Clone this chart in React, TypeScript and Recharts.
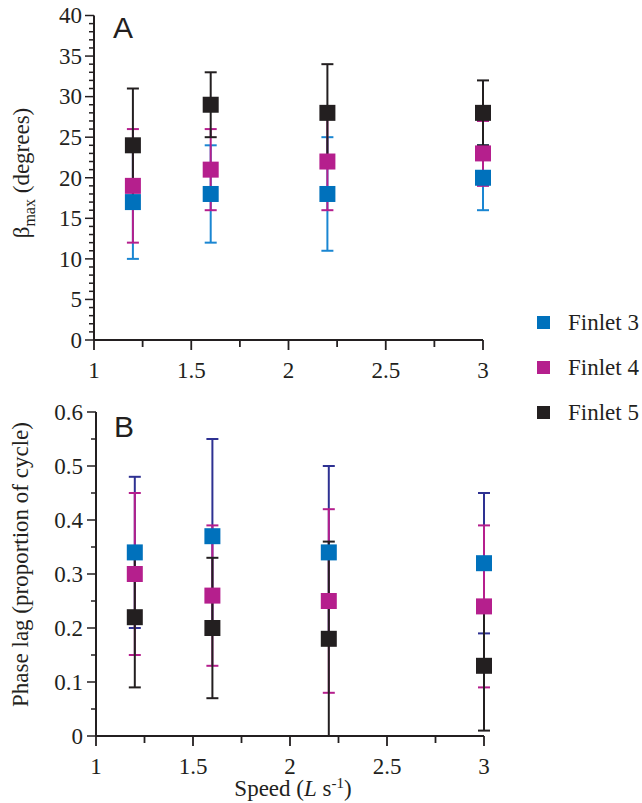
import React from 'react';
import { ScatterChart, Scatter, XAxis, YAxis, ErrorBar, Legend } from 'recharts';

const speeds = [1.2, 1.6, 2.2, 3.0];
const seriesNames = ['Finlet 3', 'Finlet 4', 'Finlet 5'];

const betaF3 = [17, 18, 18, 20];
const betaF3Err = [7, 6, 7, 4];
const betaF4 = [19, 21, 22, 23];
const betaF4Err = [7, 5, 6, 4];
const betaF5 = [24, 29, 28, 28];
const betaF5Err = [7, 4, 6, 4];

const lagF3 = [0.34, 0.37, 0.34, 0.32];
const lagF3Err = [0.14, 0.18, 0.16, 0.13];
const lagF4 = [0.3, 0.26, 0.25, 0.24];
const lagF4Err = [0.15, 0.13, 0.17, 0.15];
const lagF5 = [0.22, 0.2, 0.18, 0.13];
const lagF5Err = [0.13, 0.13, 0.18, 0.12];

const xTicks = [1, 1.25, 1.5, 1.75, 2, 2.25, 2.5, 2.75, 3];
const betaTicks = [0,1,2,3,4,5,6,7,8,9,10,11,12,13,14,15,16,17,18,19,20,21,22,23,24,25,26,27,28,29,30,31,32,33,34,35,36,37,38,39,40];
const lagTicks = [0, 0.05, 0.1, 0.15, 0.2, 0.25, 0.3, 0.35, 0.4, 0.45, 0.5, 0.55, 0.6];

const squareColors = ['#0071bc', '#b51f8d', '#231f20'];
const topErrColors = ['#1a86d2', '#b51f8d', '#231f20'];
const bottomErrColors = ['#2e3192', '#b51f8d', '#231f20'];

const INK = '#231f20';
const SERIF = "'Liberation Serif', 'Times New Roman', Times, 'DejaVu Serif', serif";
const SANS = "'Liberation Sans', Arial, sans-serif";
const FS = 23;

const build = (vals: number[], errs: number[]) =>
  speeds.map((s, i) => ({ x: s, y: vals[i], err: errs[i] }));

const topData = [build(betaF3, betaF3Err), build(betaF4, betaF4Err), build(betaF5, betaF5Err)];
const bottomData = [build(lagF3, lagF3Err), build(lagF4, lagF4Err), build(lagF5, lagF5Err)];

const txt = { fontFamily: SERIF, fontSize: FS, fill: INK } as React.CSSProperties;

const XTick = (props: any) => {
  const { x, y, payload } = props;
  const v = payload.value;
  const major = Math.abs(v * 2 - Math.round(v * 2)) < 1e-6;
  return (
    <g>
      <line x1={x} y1={y} x2={x} y2={y + (major ? 10 : 7)} stroke={INK} strokeWidth={1.8} />
      {major && (
        <text x={x} y={y + 38} textAnchor="middle" style={txt}>
          {String(v)}
        </text>
      )}
    </g>
  );
};

const BetaTick = (props: any) => {
  const { x, y, payload } = props;
  const v = payload.value;
  const major = v % 5 === 0;
  return (
    <g>
      <line x1={x} y1={y} x2={x - (major ? 9 : 5)} y2={y} stroke={INK} strokeWidth={1.5} />
      {major && (
        <text x={x - 12} y={y} dy="0.34em" textAnchor="end" style={txt}>
          {String(v)}
        </text>
      )}
    </g>
  );
};

const LagTick = (props: any) => {
  const { x, y, payload } = props;
  const v = payload.value;
  const major = Math.round(v * 100) % 10 === 0;
  return (
    <g>
      <line x1={x} y1={y} x2={x - (major ? 9 : 5)} y2={y} stroke={INK} strokeWidth={1.5} />
      {major && (
        <text x={x - 13} y={y} dy="0.34em" textAnchor="end" style={txt}>
          {v === 0 ? '0' : v.toFixed(1)}
        </text>
      )}
    </g>
  );
};

const squareShape = (color: string) => (p: any) => (
  <rect x={p.cx - 8} y={p.cy - 8} width={16} height={16} fill={color} />
);
const noShape = () => <g />;

const LegendBox = () => (
  <div style={{ fontFamily: SERIF, fontSize: FS, color: INK }}>
    {seriesNames.map((n, i) => (
      <div key={n} style={{ height: 45, display: 'flex', alignItems: 'center' }}>
        <div style={{ width: 13, height: 13, background: squareColors[i], marginRight: 18 }} />
        <span style={{ whiteSpace: 'nowrap', fontFamily: SERIF }}>{n}</span>
      </div>
    ))}
  </div>
);

const TopYLabel = () => (
  <text x={29} y={173} transform="rotate(-90, 29, 173)" textAnchor="middle" style={txt}>
    β<tspan dy={6} style={{ fontSize: 16 }}>max</tspan>
    <tspan dy={-6}> (degrees)</tspan>
  </text>
);

const BottomYLabel = () => (
  <text x={28} y={184.5} transform="rotate(-90, 28, 184.5)" textAnchor="middle" style={txt}>
    Phase lag (proportion of cycle)
  </text>
);

const BottomXLabel = () => (
  <text x={293} y={416} textAnchor="middle" style={txt}>
    Speed (<tspan style={{ fontStyle: 'italic' }}>L</tspan> s
    <tspan dy={-8} style={{ fontSize: 15 }}>-1</tspan>
    <tspan dy={8}>)</tspan>
  </text>
);

export default function App() {
  return (
    <div style={{ position: 'absolute', left: 0, top: 0, width: 642, height: 803, background: '#fff', fontFamily: SERIF }}>
      <div style={{ position: 'absolute', left: 0, top: 380 }}>
        <ScatterChart width={642} height={423} margin={{ top: 32, right: 158, bottom: 0, left: 0 }} style={{ fontFamily: SERIF }}>
          <XAxis
            type="number"
            dataKey="x"
            domain={[1, 3]}
            ticks={xTicks}
            interval={0}
            tickSize={0}
            tickMargin={0}
            height={67}
            axisLine={{ stroke: INK, strokeWidth: 2 }}
            tickLine={false}
            tick={(p: any) => <XTick {...p} />}
            label={{ content: () => <BottomXLabel /> }}
          />
          <YAxis
            type="number"
            dataKey="y"
            domain={[0, 0.6]}
            ticks={lagTicks}
            interval={0}
            tickSize={0}
            tickMargin={0}
            width={96}
            axisLine={{ stroke: INK, strokeWidth: 2 }}
            tickLine={false}
            tick={(p: any) => <LagTick {...p} />}
            label={{ content: () => <BottomYLabel /> }}
          />
          {bottomData.map((d, i) => (
            <Scatter key={'e' + i} data={d} shape={noShape} isAnimationActive={false} legendType="none">
              <ErrorBar dataKey="err" direction="y" width={6} stroke={bottomErrColors[i]} strokeWidth={2} isAnimationActive={false} />
            </Scatter>
          ))}
          {bottomData.map((d, i) => (
            <Scatter key={'s' + i} name={seriesNames[i]} data={d} fill={squareColors[i]} shape={squareShape(squareColors[i])} isAnimationActive={false} />
          ))}
          <text x={114} y={57} style={{ fontFamily: SANS, fontSize: 30, fill: INK }}>B</text>
        </ScatterChart>
      </div>
      <div style={{ position: 'absolute', left: 0, top: 0 }}>
        <ScatterChart width={642} height={392} margin={{ top: 15.5, right: 159, bottom: 12, left: 0 }} style={{ fontFamily: SERIF }}>
          <XAxis
            type="number"
            dataKey="x"
            domain={[1, 3]}
            ticks={xTicks}
            interval={0}
            tickSize={0}
            tickMargin={0}
            height={40}
            axisLine={{ stroke: INK, strokeWidth: 2 }}
            tickLine={false}
            tick={(p: any) => <XTick {...p} />}
          />
          <YAxis
            type="number"
            dataKey="y"
            domain={[0, 40]}
            ticks={betaTicks}
            interval={0}
            tickSize={0}
            tickMargin={0}
            width={94}
            axisLine={{ stroke: INK, strokeWidth: 2 }}
            tickLine={false}
            tick={(p: any) => <BetaTick {...p} />}
            label={{ content: () => <TopYLabel /> }}
          />
          {topData.map((d, i) => (
            <Scatter key={'e' + i} data={d} shape={noShape} isAnimationActive={false} legendType="none">
              <ErrorBar dataKey="err" direction="y" width={6} stroke={topErrColors[i]} strokeWidth={2} isAnimationActive={false} />
            </Scatter>
          ))}
          {topData.map((d, i) => (
            <Scatter key={'s' + i} name={seriesNames[i]} data={d} fill={squareColors[i]} shape={squareShape(squareColors[i])} isAnimationActive={false} />
          ))}
          <Legend
            layout="vertical"
            align="center"
            verticalAlign="middle"
            content={() => <LegendBox />}
            wrapperStyle={{ position: 'absolute', left: 537, top: 300, width: 105 }}
          />
          <text x={113} y={38} style={{ fontFamily: SANS, fontSize: 30, fill: INK }}>A</text>
        </ScatterChart>
      </div>
    </div>
  );
}
